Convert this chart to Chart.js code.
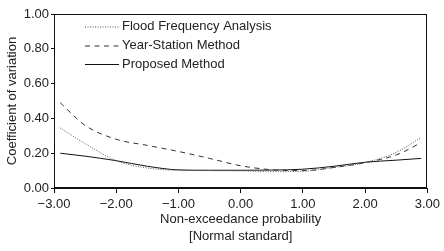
<!DOCTYPE html>
<html>
<head>
<meta charset="utf-8">
<script src="https://cdn.jsdelivr.net/npm/chart.js@4.4.0/dist/chart.umd.min.js"></script>
<style>
html,body{margin:0;padding:0;background:#fff;}
#wrap{width:444px;height:251px;position:relative;}
</style>
</head>
<body>
<div id="wrap"><canvas id="c" width="444" height="251"></canvas></div>
<script>
const xValues = [-2.9, -2.5, -2.0, -1.5, -1.0, -0.5, 0.0, 0.5, 1.0, 1.5, 2.0, 2.5, 2.9];
const floodFrequency = [0.345, 0.255, 0.157, 0.115, 0.102, 0.100, 0.098, 0.094, 0.096, 0.118, 0.146, 0.205, 0.290];
const yearStation = [0.490, 0.360, 0.280, 0.245, 0.210, 0.170, 0.128, 0.105, 0.100, 0.118, 0.146, 0.190, 0.260];
const proposed = [0.200, 0.183, 0.157, 0.125, 0.104, 0.102, 0.102, 0.103, 0.108, 0.125, 0.148, 0.160, 0.170];
const seriesNames = ['Flood Frequency Analysis', 'Year-Station Method', 'Proposed Method'];
const xTitle = ['Non-exceedance probability', '[Normal standard]'];
const yTitle = 'Coefficient of variation';

const FONT = "'Liberation Sans', Arial, sans-serif";
const fmt = v => (v < 0 ? '\u2212' : '') + Math.abs(v).toFixed(2);
const pts = arr => arr.map((y, i) => ({x: xValues[i], y}));

const frame = {
  id: 'frame',
  afterDraw(chart) {
    const {ctx, chartArea: a} = chart;
    ctx.save();
    ctx.strokeStyle = '#111';
    ctx.lineWidth = 1;
    ctx.strokeRect(Math.round(a.left) + 0.5, Math.round(a.top) + 0.5, Math.round(a.right - a.left) - 1, Math.round(a.bottom - a.top) - 1);
    // legend
    const rows = [26.5, 45.5, 64];
    ctx.font = '13px ' + FONT;
    ctx.textBaseline = 'middle';
    ctx.fillStyle = '#222';
    chart.data.datasets.forEach((ds, i) => {
      ctx.beginPath();
      ctx.setLineDash(ds.borderDash || []);
      ctx.strokeStyle = ds.borderColor;
      ctx.lineWidth = ds.borderWidth;
      ctx.moveTo(85, rows[i] + 0.5);
      ctx.lineTo(119, rows[i] + 0.5);
      ctx.stroke();
      ctx.setLineDash([]);
      ctx.fillText(seriesNames[i], 122, rows[i]);
    });
    ctx.restore();
  }
};

new Chart(document.getElementById('c'), {
  type: 'line',
  data: {
    datasets: [
      {label: seriesNames[0], data: pts(floodFrequency), borderColor: '#555', borderWidth: 1, borderDash: [1, 1.5], pointRadius: 0, cubicInterpolationMode: 'monotone', fill: false},
      {label: seriesNames[1], data: pts(yearStation), borderColor: '#333', borderWidth: 1, borderDash: [5, 4.5], pointRadius: 0, cubicInterpolationMode: 'monotone', fill: false},
      {label: seriesNames[2], data: pts(proposed), borderColor: '#111', borderWidth: 1, pointRadius: 0, cubicInterpolationMode: 'monotone', fill: false}
    ]
  },
  options: {
    responsive: false,
    animation: false,
    devicePixelRatio: 1,
    layout: {padding: {top: 14, right: 15, left: 0, bottom: 0}},
    plugins: {legend: {display: false}, tooltip: {enabled: false}},
    scales: {
      x: {
        type: 'linear', min: -3, max: 3,
        afterFit(s) { s.height = 63; },
        ticks: {stepSize: 1, callback: v => fmt(v), color: '#222', font: {family: FONT, size: 13}, padding: 4, maxRotation: 0},
        grid: {drawOnChartArea: false, drawTicks: true, tickLength: 5, color: '#111'},
        border: {display: true, color: '#111', width: 1},
        title: {display: true, text: xTitle, color: '#222', font: {family: FONT, size: 13, lineHeight: 1.3}, padding: {top: 0, bottom: 6}}
      },
      y: {
        min: 0, max: 1,
        afterFit(s) { s.width = 54; },
        ticks: {stepSize: 0.2, callback: v => fmt(v), color: '#222', font: {family: FONT, size: 13}, padding: 2},
        grid: {drawOnChartArea: false, drawTicks: true, tickLength: 3, color: '#111'},
        border: {display: true, color: '#111', width: 1},
        title: {display: true, text: yTitle, color: '#222', font: {family: FONT, size: 13}, padding: {top: 5, bottom: 0}}
      }
    }
  },
  plugins: [frame]
});
</script>
</body>
</html>
